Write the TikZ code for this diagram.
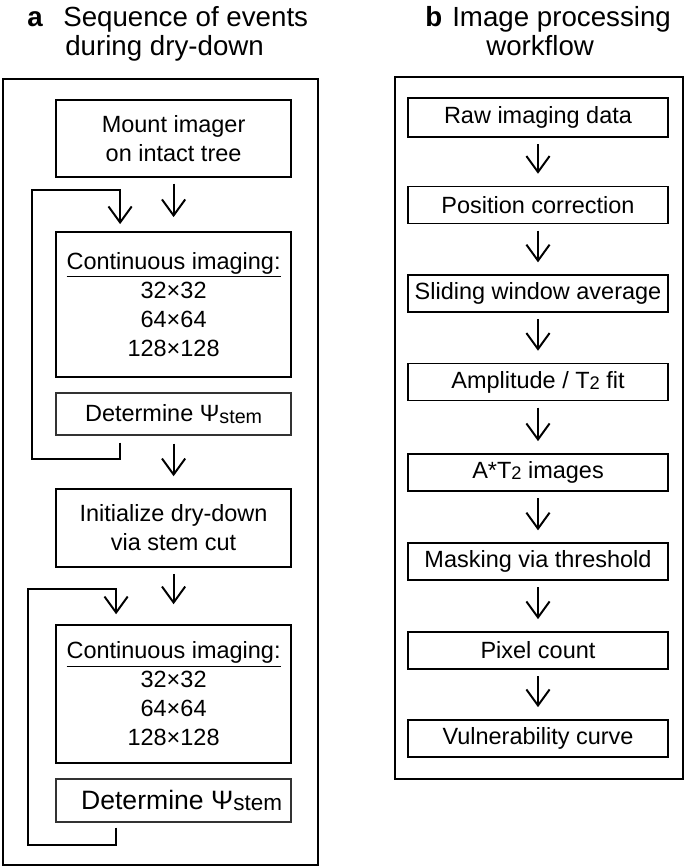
\documentclass[tikz,border=0pt]{standalone}
\usepackage{fontspec}
\setmainfont{Liberation Sans}
\usetikzlibrary{arrows.meta}
\newcommand{\sml}[2]{\raisebox{-1pt}{\fontsize{#1}{#1}\selectfont #2}}

\begin{document}
\begin{tikzpicture}
[
frame/.style={rectangle, draw=black, line width=1.2pt},
box1/.style={rectangle, draw=black, line width=1.1pt, minimum width=5.875cm, inner sep=2pt, align=center, font=\fontsize{16.7pt}{20.6pt}\selectfont},
detbox/.style={rectangle, draw=black!80, line width=0.9pt, minimum width=5.875cm, inner sep=2pt, font=\fontsize{16.7pt}{20.6pt}\selectfont},
box2/.style={rectangle, draw=black, line width=1.1pt, minimum width=6.5cm, minimum height=0.925cm, inner sep=2pt, font=\fontsize{16.7pt}{20.6pt}\selectfont},
titlebox/.style={anchor=base west, inner sep=0pt, font=\fontsize{19.7pt}{24pt}\selectfont},
lettbox/.style={anchor=base west, inner sep=0pt, font=\bfseries\fontsize{19.7pt}{24pt}\selectfont},
myarrow/.style={-{Straight Barb[length=4mm, width=5.8mm]}, black, line width=1.4pt},
]
\useasboundingbox (0,0) rectangle (17.125,-21.7);

% panel a
\node at (0.675,-0.65) [lettbox] (la) {a};
\node at (1.575,-0.65) [titlebox] (ta1) {Sequence of events};
\node at (1.625,-1.375) [titlebox] (ta2) {during dry-down};
\draw[frame] (0.075,-1.975) rectangle (7.95,-21.625);

\node at (4.34,-3.46) [box1, minimum height=1.925cm] (mount) {Mount imager\\on intact tree};
\node at (4.34,-7.61) [box1, minimum height=3.625cm] (cont1) {\underline{Continuous imaging:}\\32×32\\64×64\\128×128};
\node at (4.34,-10.35) [detbox, minimum height=1.05cm] (det1) {Determine Ψ\sml{14pt}{stem}};
\node at (4.34,-13.2) [box1, minimum height=1.95cm] (init) {Initialize dry-down\\via stem cut};
\node at (4.34,-17.35) [box1, minimum height=3.45cm] (cont2) {\underline{Continuous imaging:}\\32×32\\64×64\\128×128};
\node at (4.34,-20.01) [detbox, minimum height=1.075cm, font=\fontsize{18.9pt}{22pt}\selectfont] (det2) {\hspace*{0.4cm}Determine Ψ\sml{16pt}{stem}};

\draw[myarrow, shorten <=0.15cm, shorten >=0.35cm] (mount) -- (cont1);
\draw[myarrow, shorten <=0.2cm, shorten >=0.3cm] (det1) -- (init);
\draw[myarrow, shorten <=0.15cm, shorten >=0.5cm] (init) -- (cont2);

% repeat loops
\draw[myarrow] ([xshift=-1.3375cm, yshift=-0.175cm]det1.south) |- ++(-2.2,-0.4) |- ([xshift=-1.3375cm, yshift=1.025cm]cont1.north) -- ([xshift=-1.3375cm, yshift=0.175cm]cont1.north);
\draw[myarrow] ([xshift=-1.4375cm, yshift=-0.125cm]det2.south) |- ++(-2.2,-0.425) |- ([xshift=-1.4375cm, yshift=0.875cm]cont2.north) -- ([xshift=-1.4375cm, yshift=0.25cm]cont2.north);

% panel b
\node at (10.625,-0.65) [lettbox] (lb) {b};
\node at (11.3,-0.65) [titlebox] (tb1) {Image processing};
\node at (12.15,-1.375) [titlebox] (tb2) {workflow};
\draw[frame] (9.875,-1.925) rectangle (17.075,-19.475);

\node at (13.45,-2.94) [box2, minimum height=0.975cm] (raw) {Raw imaging data};
\node at (13.45,-5.125) [box2] (pos) {Position correction};
\node at (13.45,-7.34) [box2] (slide) {Sliding window average};
\node at (13.45,-9.55) [box2] (ampl) {Amplitude / T\sml{13pt}{2} fit};
\node at (13.45,-11.81) [box2] (at2) {A*T\sml{13pt}{2} images};
\node at (13.45,-14.04) [box2] (mask) {Masking via threshold};
\node at (13.45,-16.26) [box2] (pix) {Pixel count};
\node at (13.45,-18.46) [box2] (vuln) {Vulnerability curve};

\draw[myarrow, shorten <=0.16cm, shorten >=0.3cm] (raw) -- (pos);
\draw[myarrow, shorten <=0.16cm, shorten >=0.3cm] (pos) -- (slide);
\draw[myarrow, shorten <=0.16cm, shorten >=0.3cm] (slide) -- (ampl);
\draw[myarrow, shorten <=0.16cm, shorten >=0.3cm] (ampl) -- (at2);
\draw[myarrow, shorten <=0.16cm, shorten >=0.3cm] (at2) -- (mask);
\draw[myarrow, shorten <=0.16cm, shorten >=0.3cm] (mask) -- (pix);
\draw[myarrow, shorten <=0.16cm, shorten >=0.3cm] (pix) -- (vuln);

\end{tikzpicture}
\end{document}
